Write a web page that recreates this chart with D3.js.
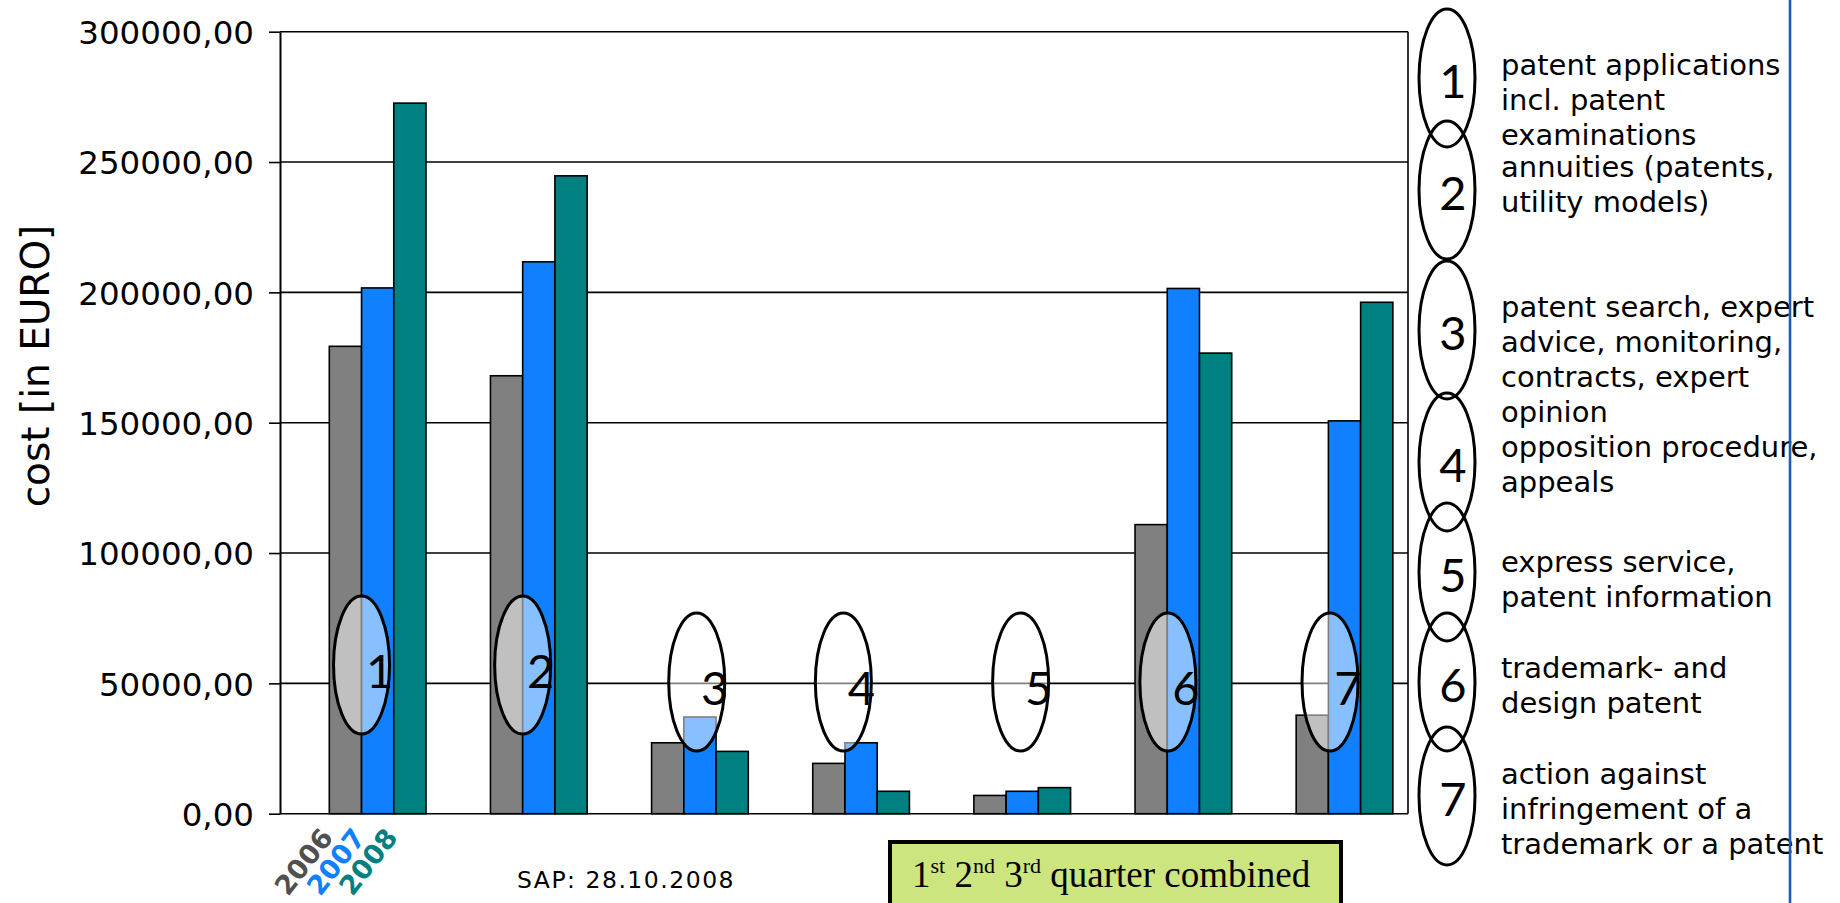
<!DOCTYPE html>
<html>
<head>
<meta charset="utf-8">
<script src="https://cdn.jsdelivr.net/npm/d3@7"></script>
<style>
  html, body { margin: 0; padding: 0; background: #ffffff; }
  svg { display: block; }
</style>
</head>
<body>
<svg id="chart" width="1840" height="903"></svg>
<script>
// ---- data ----------------------------------------------------------------
const categories = ["1", "2", "3", "4", "5", "6", "7"];
const years = ["2006", "2007", "2008"];
const cost2006 = [179300, 168000, 27200, 19300, 7000, 110900, 37800];
const cost2007 = [201700, 211700, 37100, 27200, 8600, 201500, 150700];
const cost2008 = [272600, 244700, 23900, 8600, 10000, 176700, 196200];
const yTickValues = [0, 50000, 100000, 150000, 200000, 250000, 300000];
const descriptions = [
  ["patent applications", "incl. patent", "examinations"],
  ["annuities (patents,", "utility models)"],
  ["patent search, expert", "advice, monitoring,", "contracts, expert", "opinion"],
  ["opposition procedure,", "appeals"],
  ["express service,", "patent information"],
  ["trademark- and", "design patent"],
  ["action against", "infringement of a", "trademark or a patent"]
];
const yAxisTitle = "cost [in EURO]";
const sourceNote = "SAP:  28.10.2008";

// ---- layout & style ------------------------------------------------------
const W = 1840, H = 903;
const plot = { left: 280, right: 1408, top: 31.7, bottom: 813.7 };
const colors = { "2006": "#808080", "2007": "#1080ff", "2008": "#008080" };
const yearTextColors = { "2006": "#505050", "2007": "#1080ff", "2008": "#008080" };
const digitFont = "Lato, 'DejaVu Sans', sans-serif";
const textFont = "'DejaVu Sans', Verdana, sans-serif";

const svg = d3.select("#chart");
svg.append("rect").attr("width", W).attr("height", H).attr("fill", "#ffffff");

const series = years.map((yr, i) => ({
  year: yr,
  values: [cost2006, cost2007, cost2008][i]
}));
const rows = categories.map((c, ci) => ({
  category: c,
  bars: series.map(s => ({ year: s.year, value: s.values[ci] }))
}));

// ---- scales ----------------------------------------------------------------
const x0 = d3.scaleBand()
  .domain(categories)
  .range([plot.left, plot.right])
  .paddingInner(0.4)
  .paddingOuter(0.2)
  .align(0.765);
const x1 = d3.scaleBand().domain(years).range([0, x0.bandwidth()]);
const y = d3.scaleLinear().domain([0, 300000]).range([plot.bottom, plot.top]);

const locale = d3.formatLocale({ decimal: ",", thousands: "", grouping: [3], currency: ["", "€"] });
const fmt = locale.format(".2f");

// ---- grid -----------------------------------------------------------------
svg.append("g")
  .selectAll("line")
  .data(yTickValues)
  .join("line")
  .attr("x1", plot.left).attr("x2", plot.right)
  .attr("y1", d => y(d)).attr("y2", d => y(d))
  .attr("stroke", "#000").attr("stroke-width", 1.6);

// right frame edge
svg.append("line")
  .attr("x1", plot.right).attr("x2", plot.right)
  .attr("y1", y(300000)).attr("y2", y(0))
  .attr("stroke", "#000").attr("stroke-width", 1.6);

// ---- bars -----------------------------------------------------------------
const groups = svg.append("g").selectAll("g")
  .data(rows)
  .join("g")
  .attr("transform", d => `translate(${x0(d.category)},0)`);

groups.selectAll("rect")
  .data(d => d.bars)
  .join("rect")
  .attr("x", d => x1(d.year))
  .attr("width", x1.bandwidth())
  .attr("y", d => y(d.value))
  .attr("height", d => y(0) - y(d.value))
  .attr("fill", d => colors[d.year])
  .attr("stroke", "#000")
  .attr("stroke-width", 1.6);

// ---- y axis ---------------------------------------------------------------
const yAxis = svg.append("g")
  .attr("transform", `translate(${plot.left},0)`)
  .call(d3.axisLeft(y).tickValues(yTickValues).tickFormat(fmt)
    .tickSize(11).tickSizeOuter(0).tickPadding(15));
yAxis.select(".domain").attr("stroke", "#000").attr("stroke-width", 2);
yAxis.selectAll(".tick line").attr("stroke", "#000").attr("stroke-width", 1.6);
yAxis.selectAll(".tick text")
  .attr("fill", "#000")
  .attr("font-family", textFont)
  .attr("font-size", 32.5)
  .attr("dy", "0.36em");

svg.append("text")
  .attr("transform", `translate(49,366) rotate(-90)`)
  .attr("text-anchor", "middle")
  .attr("font-family", textFont)
  .attr("font-size", 39)
  .attr("fill", "#000")
  .text(yAxisTitle);

// ---- numbered markers over the category groups ---------------------------
const markerLevel = [57000, 57000, 50500, 50500, 50500, 50500, 50500];
const markerSlot = [1, 1, 1.4, 0.95, 1.45, 1.02, 1.05];
const rx = 28, ry = 69;

const markers = svg.append("g").selectAll("g")
  .data(categories)
  .join("g")
  .attr("transform", (c, i) =>
    `translate(${x0(c) + markerSlot[i] * x1.bandwidth()},${y(markerLevel[i])})`);
markers.append("ellipse")
  .attr("rx", rx).attr("ry", ry)
  .attr("fill", "#ffffff").attr("fill-opacity", 0.5)
  .attr("stroke", "#000").attr("stroke-width", 3);
markers.append("text")
  .attr("x", 18).attr("y", 23)
  .attr("text-anchor", "middle")
  .attr("font-family", digitFont)
  .attr("font-weight", 400)
  .attr("font-size", 47)
  .attr("fill", "#000")
  .text(c => c);

// ---- year labels under the first group -------------------------------------
svg.append("g")
  .selectAll("text")
  .data(years)
  .join("text")
  .attr("transform", yr => `translate(${x0(categories[0]) + x1(yr) + 5},838) rotate(-52)`)
  .attr("text-anchor", "end")
  .attr("font-family", textFont)
  .attr("font-weight", "bold")
  .attr("font-size", 27)
  .attr("fill", yr => yearTextColors[yr])
  .text(yr => yr);

// ---- key on the right ---------------------------------------------------
const keyX = 1447;
const keyCenters = [78, 190, 330, 462, 572, 682, 796];
const keyBaselines = [75, 177, 317, 457, 572, 678, 784];
const key = svg.append("g").selectAll("g")
  .data(categories)
  .join("g");
key.append("ellipse")
  .attr("cx", keyX).attr("cy", (c, i) => keyCenters[i])
  .attr("rx", rx).attr("ry", ry)
  .attr("fill", "none")
  .attr("stroke", "#000").attr("stroke-width", 3);
key.append("text")
  .attr("x", keyX + 6).attr("y", (c, i) => keyCenters[i] + 20)
  .attr("text-anchor", "middle")
  .attr("font-family", digitFont)
  .attr("font-weight", 400)
  .attr("font-size", 47)
  .attr("fill", "#000")
  .text(c => c);
key.append("text")
  .attr("font-family", textFont)
  .attr("font-size", 29)
  .attr("fill", "#000")
  .selectAll("tspan")
  .data((c, i) => descriptions[i].map((line, j) => ({ line, j, i })))
  .join("tspan")
  .attr("x", 1501)
  .attr("y", d => keyBaselines[d.i] + d.j * 35)
  .text(d => d.line);

// vertical rule at the right edge
svg.append("line")
  .attr("x1", 1790).attr("x2", 1790)
  .attr("y1", 0).attr("y2", H)
  .attr("stroke", "#1f5bb0").attr("stroke-width", 2.6);

// ---- footer ---------------------------------------------------------------
svg.append("text")
  .attr("x", 517).attr("y", 888)
  .attr("font-family", textFont)
  .attr("font-size", 23.5)
  .attr("letter-spacing", 1.5)
  .attr("fill", "#000")
  .text(sourceNote);

svg.append("rect")
  .attr("x", 890).attr("y", 842)
  .attr("width", 451).attr("height", 80)
  .attr("fill", "#cde57f")
  .attr("stroke", "#000").attr("stroke-width", 4);

const note = svg.append("text")
  .attr("x", 912).attr("y", 887)
  .attr("font-family", "'Liberation Serif', 'Times New Roman', serif")
  .attr("font-size", 37)
  .attr("fill", "#000");
[["1", "st"], ["2", "nd"], ["3", "rd"]].forEach(([n, sup]) => {
  note.append("tspan").attr("dy", 0).text(n);
  note.append("tspan").attr("font-size", 22).attr("dy", -14).text(sup);
  note.append("tspan").attr("dy", 14).text(" ");
});
note.append("tspan").text("quarter combined");
</script>
</body>
</html>
